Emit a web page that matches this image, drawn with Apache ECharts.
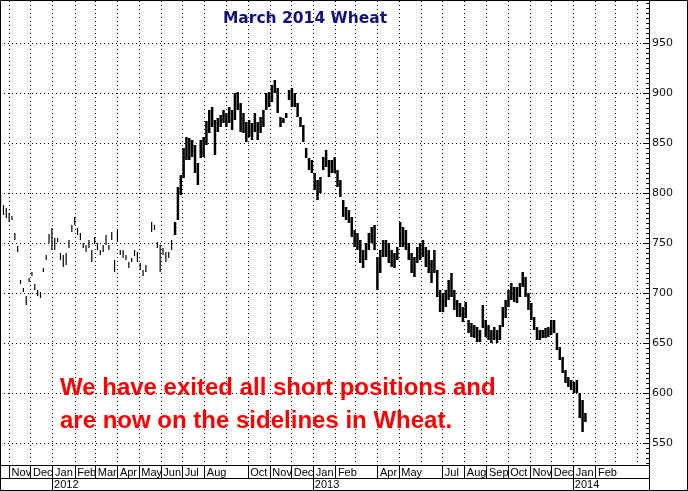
<!DOCTYPE html>
<html><head><meta charset="utf-8">
<script src="https://cdn.jsdelivr.net/npm/echarts@6/dist/echarts.min.js"></script>
<style>html,body{margin:0;padding:0;background:#fff}#c{width:688px;height:491px}</style>
</head><body><div id="c"></div>
<script>
const chartTitle = 'March 2014 Wheat';
const noteLines = ['We have exited all short positions and', 'are now on the sidelines in Wheat.'];
const axisStart = '2011-10-19';
const axisEnd = '2014-04-16';
const stepDays = 4;

// thinly traded early period (one entry every 4 days, null = no trade)
const sparseStart = '2011-10-19';
const sparseLows = [
  788,778,775,771,773,753,741,709,701,688,
  711,717,703,697,695,721,733,750,743,743,
  751,733,726,728,745,761,768,758,753,745,
  741,745,731,749,743,738,741,748,743,753,
  721,751,738,735,733,725,731,737,731,723,
  717,721,null,761,763,745,721,738,731,735,
  743];
const sparseHighs = [
  798,788,785,780,777,760,747,713,705,697,
  715,721,709,703,701,725,738,759,765,755,
  755,740,738,740,753,768,776,765,760,750,
  748,753,743,756,750,743,748,758,748,761,
  733,763,743,743,738,731,735,743,741,730,
  723,728,null,771,768,751,748,745,741,741,
  753];

// active period (one entry every 4 days)
const denseStart = '2012-06-19';
const denseLows = [
  758,773,798,815,833,833,836,820,808,835,
  836,848,860,866,838,861,866,870,866,870,
  863,873,883,861,860,851,856,853,861,853,
  860,866,883,886,891,900,880,866,870,875,
  893,886,886,876,866,851,835,823,820,803,
  793,800,823,826,816,820,820,806,796,776,
  773,770,756,746,743,730,725,733,743,750,
  743,703,720,736,736,730,726,725,733,746,
  746,743,733,720,716,730,733,736,726,720,
  710,720,696,681,681,686,693,696,683,676,
  676,671,675,660,656,655,651,651,665,656,
  653,650,653,650,653,666,675,686,693,691,
  690,696,706,696,683,673,663,653,653,655,
  655,656,658,660,643,633,620,610,606,603,
  600,600,575,561,571];
const denseHighs = [
  771,806,818,845,856,855,853,848,830,853,
  856,872,883,886,873,875,878,883,880,886,
  883,900,901,890,880,871,873,870,880,871,
  876,883,900,901,908,913,905,876,875,880,
  903,905,900,890,876,868,845,835,833,820,
  813,816,836,843,833,833,836,823,813,793,
  786,783,776,763,760,753,743,750,760,766,
  768,736,743,753,753,750,743,740,746,771,
  766,763,750,740,736,746,750,753,746,743,
  733,743,723,703,700,703,713,720,703,693,
  690,686,691,673,670,668,666,663,688,673,
  668,663,666,663,668,686,693,703,710,706,
  706,710,721,716,700,690,676,666,663,663,
  665,666,673,673,660,646,636,623,616,613,
  611,613,600,593,580];

const yLabelValues = [550, 600, 650, 700, 750, 800, 850, 900, 950];
const yMin = 528, yMax = 992, yMinorStep = 5;
const monthNames = ['Jan','Feb','Mar','Apr','May','Jun','Jul','Aug','Sep','Oct','Nov','Dec'];
const hiddenMonthLabels = ['2012-09', '2013-03', '2013-06', '2014-03', '2014-04'];

function addDays(s, n) {
  const d = new Date(s + 'T00:00:00Z');
  d.setUTCDate(d.getUTCDate() + n);
  return d.toISOString().slice(0, 10);
}
const categories = [];
for (let d = axisStart; d <= axisEnd; d = addDays(d, 1)) categories.push(d);

function build(start, lows, highs) {
  const out = [];
  lows.forEach((lo, i) => {
    if (lo == null || highs[i] == null) return;
    out.push([addDays(start, i * stepDays), lo, highs[i]]);
  });
  return out;
}
const yMinorTicks = [];
for (let v = yMin + 2; v <= yMax; v += yMinorStep) yMinorTicks.push(v);

const isMonthStart = (i, v) => v.slice(8) === '01';
const isShownMonth = (i, v) => v.slice(8) === '01' && hiddenMonthLabels.indexOf(v.slice(0, 7)) < 0;
const isYearStart = (i, v) => v.slice(5) === '01-01';

function makeRender(barWidth) {
  return function (params, api) {
    const i = api.value(0), lo = api.value(1), hi = api.value(2);
    const bw = api.size([1, 0])[0];
    const top = api.coord([i, hi]);
    const bot = api.coord([i, lo]);
    const left = top[0] - bw / 2;
    return {
      type: 'rect',
      shape: { x: left, y: top[1], width: barWidth, height: Math.max(1.3, bot[1] - top[1]) },
      style: { fill: '#000' }
    };
  };
}

const chart = echarts.init(document.getElementById('c'), null, { renderer: 'canvas' });
chart.setOption({
  animation: false,
  backgroundColor: '#fff',
  grid: { left: 0, right: 39, top: 1, bottom: 26, containLabel: false },
  xAxis: [{
    type: 'category', data: categories, boundaryGap: true, position: 'bottom',
    axisLine: { show: true, lineStyle: { color: '#000', width: 1 } },
    axisTick: { show: true, length: 13, interval: isShownMonth, lineStyle: { color: '#000' } },
    axisLabel: {
      show: true, interval: isShownMonth, align: 'left', padding: [0, 0, 0, 2], margin: 2,
      formatter: v => monthNames[+v.slice(5, 7) - 1],
      color: '#000', fontFamily: 'Liberation Sans', fontSize: 11
    },
    splitLine: { show: true, interval: isMonthStart, lineStyle: { color: '#000', type: [1, 3], width: 1 } }
  }, {
    type: 'category', data: categories, boundaryGap: true, position: 'bottom', offset: 13,
    axisLine: { show: true, lineStyle: { color: '#000', width: 1 } },
    axisTick: { show: true, length: 12, interval: isYearStart, lineStyle: { color: '#000' } },
    axisLabel: {
      show: true, interval: isYearStart, align: 'left', padding: [0, 0, 0, 1], margin: 1,
      formatter: v => v.slice(0, 4),
      color: '#000', fontFamily: 'Liberation Sans', fontSize: 11
    },
    splitLine: { show: false }
  }],
  yAxis: [{
    type: 'value', position: 'right', min: yMin, max: yMax,
    axisLine: { show: true, lineStyle: { color: '#000', width: 1 } },
    axisTick: { show: true, inside: true, length: 3, customValues: yMinorTicks, lineStyle: { color: '#000' } },
    axisLabel: { show: true, customValues: yLabelValues, margin: 3, color: '#111', fontFamily: 'DejaVu Sans', fontSize: 11 },
    splitLine: { show: false }
  }, {
    type: 'value', position: 'right', min: yMin, max: yMax,
    axisLine: { show: false },
    axisTick: { show: true, inside: true, length: 6, customValues: yLabelValues, lineStyle: { color: '#000' } },
    axisLabel: { show: false },
    splitLine: { show: true, lineStyle: { color: '#000', type: [1, 3], width: 1 } }
  }],
  series: [{
    name: 'early', type: 'custom', xAxisIndex: 0, yAxisIndex: 0,
    renderItem: makeRender(1.2), encode: { x: 0, y: [1, 2] },
    data: build(sparseStart, sparseLows, sparseHighs), clip: true, z: 5
  }, {
    name: 'active', type: 'custom', xAxisIndex: 0, yAxisIndex: 0,
    renderItem: makeRender(2.5), encode: { x: 0, y: [1, 2] },
    data: build(denseStart, denseLows, denseHighs), clip: true, z: 5
  }],
  graphic: [
    { type: 'text', x: 305, y: 19, z: 10, style: { text: chartTitle, align: 'center', verticalAlign: 'middle', fill: '#10107f', font: 'bold 15.5px "DejaVu Sans"' } },
    { type: 'text', x: 60, y: 388, z: 10, style: { text: noteLines[0], align: 'left', verticalAlign: 'middle', fill: '#ff0000', font: 'bold 24px "Liberation Sans"' } },
    { type: 'text', x: 60, y: 421, z: 10, style: { text: noteLines[1], align: 'left', verticalAlign: 'middle', fill: '#ff0000', font: 'bold 24px "Liberation Sans"' } },
    { type: 'line', z: 10, shape: { x1: 649.5, y1: 465, x2: 649.5, y2: 490 }, style: { stroke: '#000', lineWidth: 1 } },
    { type: 'rect', z: 10, shape: { x: 0.5, y: 0.5, width: 687, height: 490 }, style: { fill: 'none', stroke: '#000', lineWidth: 1 } }
  ]
});
</script></body></html>
